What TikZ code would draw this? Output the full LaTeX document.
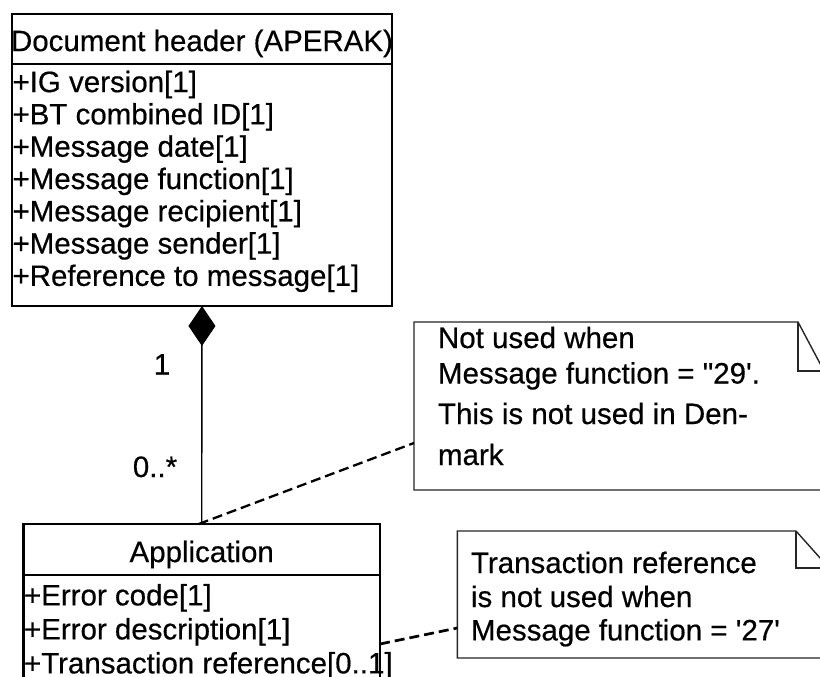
\documentclass[tikz,border=0pt]{standalone}
\usepackage{fontspec}
\setmainfont{Liberation Sans}[Ligatures=TeXOff,FakeBold=0.5]
\usetikzlibrary{arrows.meta,calc}
\begin{document}
\begin{tikzpicture}[x=1pt,y=-1pt,
  every node/.style={inner sep=0pt,outer sep=0pt},
  txt/.style={anchor=base west,font=\fontsize{29.5}{33}\selectfont},
  ctxt/.style={anchor=base,font=\fontsize{29.5}{33}\selectfont},
  classbox/.style={draw=black,line width=2.5pt,rectangle},
  notebox/.style={rectangle,draw=none},
  noteline/.style={draw=black!85,line width=1.4pt,line join=miter},
  assoc/.style={draw=black,line width=1.4pt},
  anchorline/.style={draw=black,line width=2.3pt,dash pattern=on 10pt off 5pt}
]
\useasboundingbox (0,0) rectangle (820,677);
\clip (0,0) rectangle (820,677);
\fill[white] (0,0) rectangle (820,677);

% Document header class
\node[classbox,minimum width=380pt,minimum height=292pt] (dh) at (202,160) {};
\draw[line width=2.5pt] (12,64) -- (392,64);
\node[ctxt] (dht) at (202,51.1) {Document header (APERAK)};
\node[txt] (a1) at (12.5,92.1) {+IG version[1]};
\node[txt] (a2) at (12.5,124.4) {+BT combined ID[1]};
\node[txt] (a3) at (12.5,156.7) {+Message date[1]};
\node[txt] (a4) at (12.5,189.0) {+Message function[1]};
\node[txt] (a5) at (12.5,221.3) {+Message recipient[1]};
\node[txt] (a6) at (12.5,253.6) {+Message sender[1]};
\node[txt] (a7) at (12.5,285.9) {+Reference to message[1]};

% Application class
\node[classbox,minimum width=356.7pt,minimum height=176pt] (app) at (201.7,612) {};
\draw[line width=2.5pt] (23.3,575) -- (380,575);
\node[ctxt] (appt) at (201.7,562.1) {Application};
\node[txt] (b1) at (24,605.4) {+Error code[1]};
\node[txt] (b2) at (24,639.4) {+Error description[1]};
\node[txt] (b3) at (24,673.4) {+Transaction reference[0..1]};

% Composition
\draw[assoc,{Diamond[length=40pt,width=27pt]}-] (dh.south) -- (app.north);
\node[ctxt] (m1) at (162,374.5) {1};
\node[ctxt] (m2) at (155,477) {0..*};

% Note 1
\node[notebox,minimum width=410pt,minimum height=168pt] (n1) at (619,406) {};
\draw[noteline,fill=white] (n1.south west) -- (n1.north west) -- ([xshift=-26pt]n1.north east)
  -- ([yshift=-49pt]n1.north east) -- (n1.south east) -- cycle;
\draw[noteline] ([xshift=-26pt]n1.north east) -- ([xshift=-26pt,yshift=-49pt]n1.north east)
  -- ([yshift=-49pt]n1.north east);
\node[txt] (n1a) at (438,348) {Not used when};
\node[txt] (n1b) at (438,383.5) {Message function = "29'.};
\node[txt] (n1c) at (438,424) {This is not used in Den-};
\node[txt] (n1d) at (438,465) {mark};

% Note 2
\node[notebox,minimum width=371.7pt,minimum height=127pt] (n2) at (643.15,594.5) {};
\draw[noteline,fill=white] (n2.south west) -- (n2.north west) -- ([xshift=-33pt]n2.north east)
  -- ([yshift=-37pt]n2.north east) -- (n2.south east) -- cycle;
\draw[noteline] ([xshift=-33pt]n2.north east) -- ([xshift=-33pt,yshift=-37pt]n2.north east)
  -- ([yshift=-37pt]n2.north east);
\node[txt] (n2a) at (471,573) {Transaction reference};
\node[txt] (n2b) at (471,607) {is not used when};
\node[txt] (n2c) at (471,640.4) {Message function = '27'};

% Anchor lines
\draw[anchorline] ([xshift=-3pt]app.north) -- ([yshift=-37pt]n1.west);
\draw[anchorline,line width=2.7pt] ([yshift=-32pt]app.east) -- ([yshift=-33.5pt]n2.west);
\end{tikzpicture}
\end{document}
